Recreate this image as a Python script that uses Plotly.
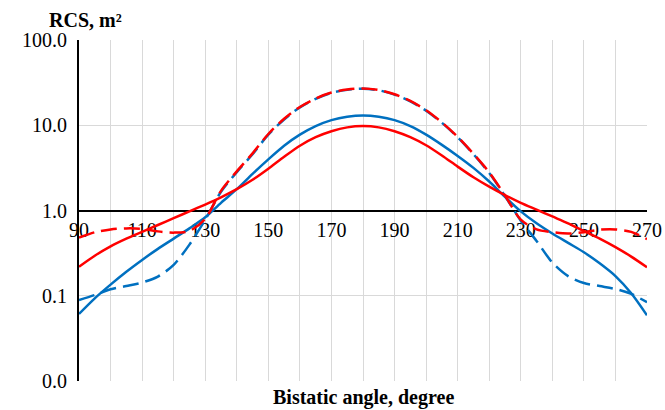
import plotly.graph_objects as go

angles = list(range(90, 271, 5))

blue_solid = [0.0612, 0.0933, 0.135, 0.191, 0.263, 0.355, 0.468, 0.617, 0.832, 1.230,
              1.778, 2.692, 3.981, 5.754, 7.762, 9.772, 11.48, 12.59, 13.03, 12.59,
              11.48, 9.772, 7.762, 5.888, 4.365, 3.162, 2.188, 1.445, 0.977, 0.708,
              0.537, 0.417, 0.324, 0.240, 0.170, 0.107, 0.0589]

blue_dashed = [0.089, 0.102, 0.119, 0.130, 0.143, 0.168, 0.23, 0.398, 0.78, 1.66,
               2.82, 4.57, 7.76, 11.7, 16.2, 20.4, 24.0, 26.0, 26.8, 25.7,
               22.9, 19.1, 14.8, 10.7, 7.24, 4.57, 2.75, 1.48, 0.76, 0.44,
               0.245, 0.170, 0.141, 0.130, 0.120, 0.105, 0.084]

red_solid = [0.219, 0.295, 0.380, 0.468, 0.562, 0.676, 0.813, 0.977, 1.175, 1.429,
             1.778, 2.291, 3.090, 4.266, 5.754, 7.244, 8.511, 9.441, 9.772, 9.441,
             8.511, 7.244, 5.821, 4.416, 3.273, 2.455, 1.905, 1.514, 1.230, 1.023,
             0.851, 0.708, 0.575, 0.468, 0.372, 0.288, 0.216]

red_dashed = [0.48, 0.556, 0.60, 0.617, 0.61, 0.569, 0.55, 0.575, 0.80, 1.70,
              2.88, 4.68, 7.9, 11.9, 16.4, 20.6, 24.2, 26.2, 27.0, 25.9,
              23.1, 19.3, 15.0, 10.8, 7.3, 4.62, 2.8, 1.5, 0.78, 0.60,
              0.556, 0.537, 0.556, 0.596, 0.60, 0.562, 0.462]

x_ticks = list(range(90, 271, 20))
y_ticks = [0.01, 0.1, 1, 10, 100]
y_labels = ["0.0", "0.1", "1.0", "10.0", "100.0"]

BLUE = "#0070C0"
RED = "#FF0000"
FONT = "Liberation Serif"

fig = go.Figure()
series = [
    (blue_solid, BLUE, "solid"),
    (blue_dashed, BLUE, "16px,7px"),
    (red_solid, RED, "solid"),
    (red_dashed, RED, "16px,7px"),
]
for vals, col, dash in series:
    fig.add_trace(go.Scatter(x=angles, y=vals, mode="lines",
                             line=dict(color=col, width=2.5, dash=dash, shape="spline", smoothing=0.8),
                             showlegend=False, hoverinfo="skip"))

fig.update_layout(
    width=665, height=410,
    margin=dict(l=79, r=18, t=40, b=29),
    plot_bgcolor="white", paper_bgcolor="white",
    font=dict(family=FONT, size=20, color="black"),
    xaxis=dict(range=[90, 270], tickvals=x_ticks, ticktext=[str(v) for v in x_ticks],
               anchor="free", position=0.5, showline=True, linecolor="black", linewidth=2,
               showgrid=True, gridcolor="#d9d9d9", gridwidth=1,
               minor=dict(dtick=10, tick0=90, showgrid=True, gridcolor="#d9d9d9", gridwidth=1),
               ticks="outside", ticklen=1, tickcolor="rgba(0,0,0,0)",
               zeroline=False, layer="below traces", automargin=False,
               tickfont=dict(family=FONT, size=20, color="black")),
    yaxis=dict(type="log", range=[-2, 2], tickvals=y_ticks, ticktext=y_labels,
               showline=True, linecolor="black", linewidth=2,
               showgrid=True, gridcolor="#d9d9d9", gridwidth=1,
               ticks="outside", ticklen=6, tickcolor="rgba(0,0,0,0)",
               zeroline=False, layer="below traces", automargin=False,
               tickfont=dict(family=FONT, size=20, color="black")),
    annotations=[
        dict(text="<b>RCS, m²</b>", xref="paper", yref="paper", x=0.0106, y=1.0,
             xanchor="center", yanchor="middle", yshift=20, showarrow=False,
             font=dict(family=FONT, size=20, color="black")),
        dict(text="<b>Bistatic angle, degree</b>", xref="paper", yref="paper", x=0.5, y=0,
             xanchor="center", yanchor="middle", yshift=-16, showarrow=False,
             font=dict(family=FONT, size=20, color="black")),
    ],
)

fig.write_html("out.html", config={"displayModeBar": False},
               post_script="document.body.style.margin='0';document.body.style.overflow='hidden';")
